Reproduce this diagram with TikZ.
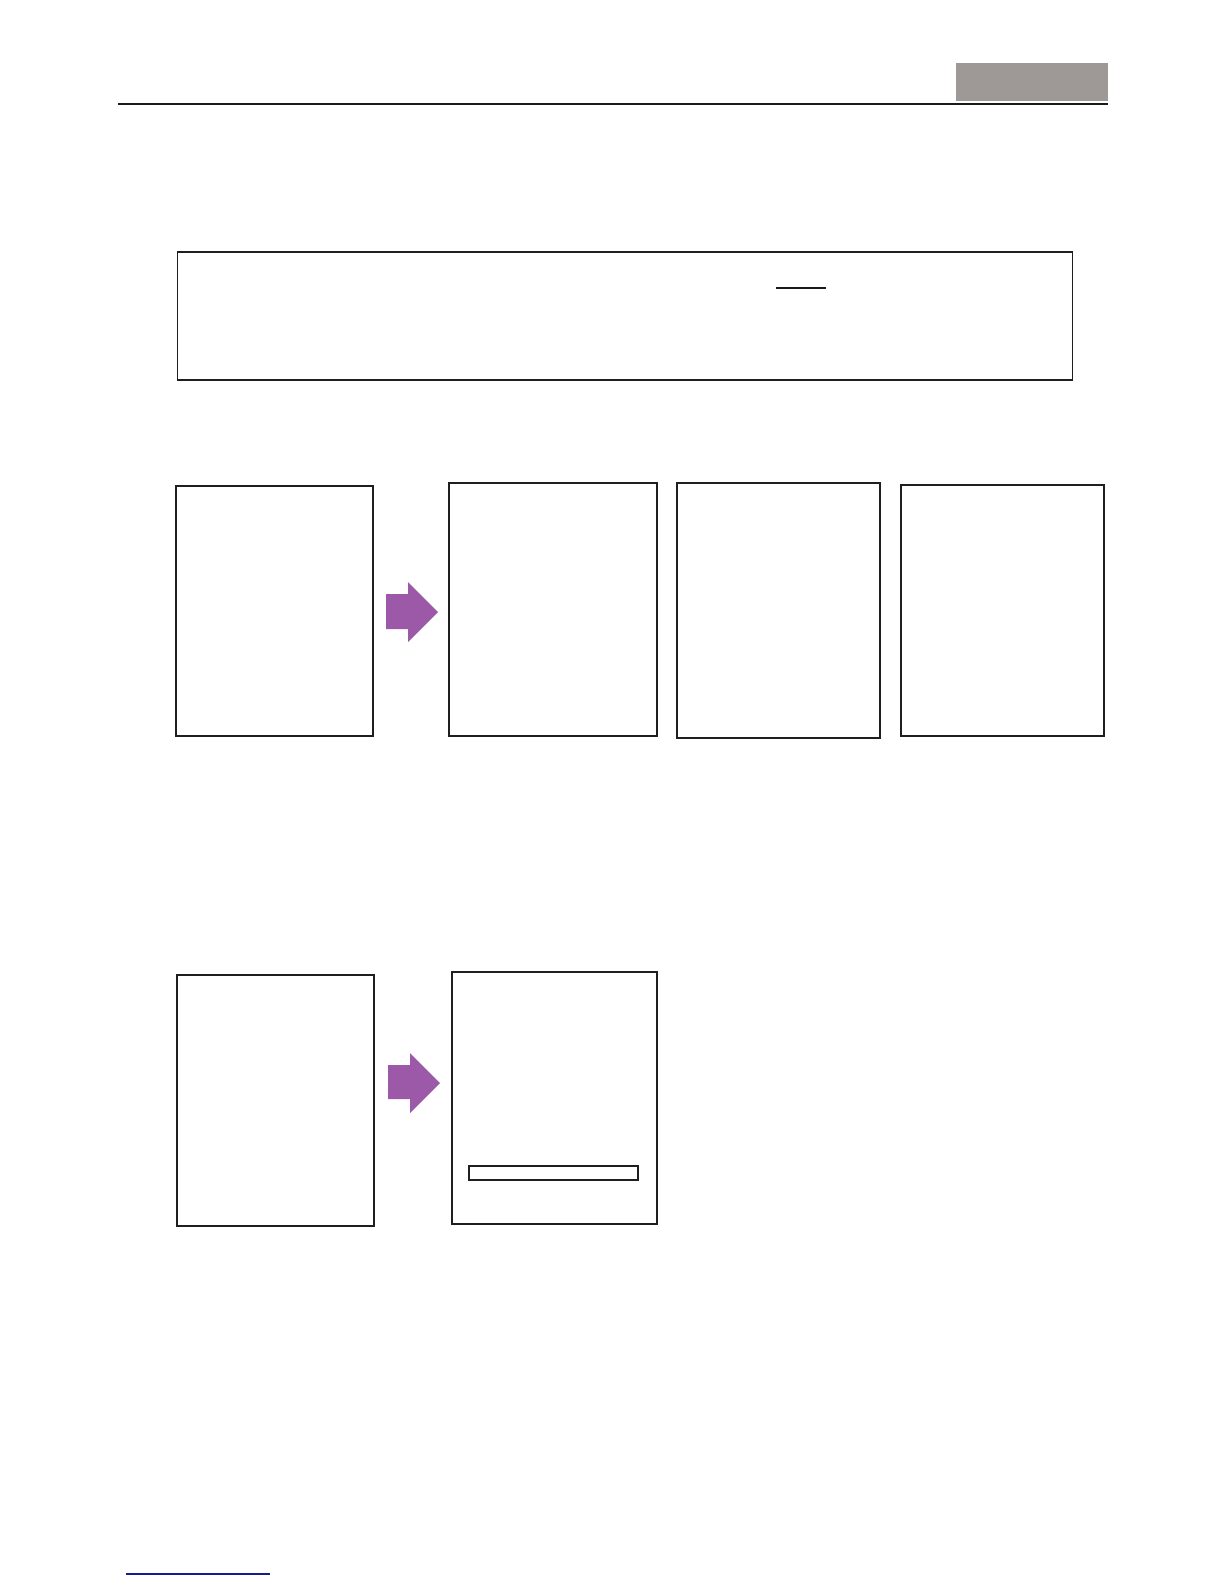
\documentclass[tikz,border=0pt]{standalone}
\begin{document}
\begin{tikzpicture}[x=0.5pt,y=-0.5pt,
  panel/.style={draw=black!88, line width=0.8pt, inner sep=0pt, anchor=north west, fill=white},
  thickpanel/.style={panel, line width=1.2pt},
  arrowfill/.style={fill=arrowpurple, draw=none}]
\definecolor{headgray}{RGB}{158,153,150}
\definecolor{arrowpurple}{RGB}{155,89,168}
\definecolor{linknavy}{RGB}{26,26,140}
\useasboundingbox (0,0) rectangle (1224,1584);
% header
\node[fill=headgray, inner sep=0pt, anchor=north west, minimum width=76pt, minimum height=19pt] (hdr) at (956,63) {};
\coordinate (hl1) at (118,104);
\coordinate (hl2) at (1108,104);
\draw[line width=1.1pt, black!90] (hl1) -- (hl2);
% note box
\node[panel, line width=0.9pt, minimum width=447.5pt, minimum height=64pt] (note) at (176.5,251) {};
\coordinate (u1) at (776,288);
\coordinate (u2) at (826,288);
\draw[line width=0.6pt, black!90] (u1) -- (u2);
% row 1
\node[thickpanel, minimum width=98.5pt, minimum height=125pt] (a) at (175,485) {};
\node[panel, minimum width=104pt, minimum height=126.5pt] (b) at (448,482) {};
\node[panel, minimum width=101.5pt, minimum height=127.5pt] (c) at (676,482) {};
\node[panel, line width=1pt, minimum width=101.5pt, minimum height=125.5pt] (d) at (900,484) {};
\fill[arrowfill] (386,594) -- (408,594) -- (408,582) -- (438,612) -- (408,642) -- (408,629) -- (386,629) -- cycle;
% row 2
\node[panel, minimum width=98.5pt, minimum height=125.5pt] (e) at (176,974) {};
\node[panel, minimum width=102.5pt, minimum height=126pt] (f) at (451,971) {};
\node[panel, minimum width=84.5pt, minimum height=7pt] (bar) at (468,1165) {};
\fill[arrowfill] (388,1065) -- (410,1065) -- (410,1053) -- (440,1083) -- (410,1113) -- (410,1099) -- (388,1099) -- cycle;
% footer link
\coordinate (l1) at (126,1574);
\coordinate (l2) at (270,1574);
\draw[line width=0.6pt, linknavy] (l1) -- (l2);
\end{tikzpicture}
\end{document}
